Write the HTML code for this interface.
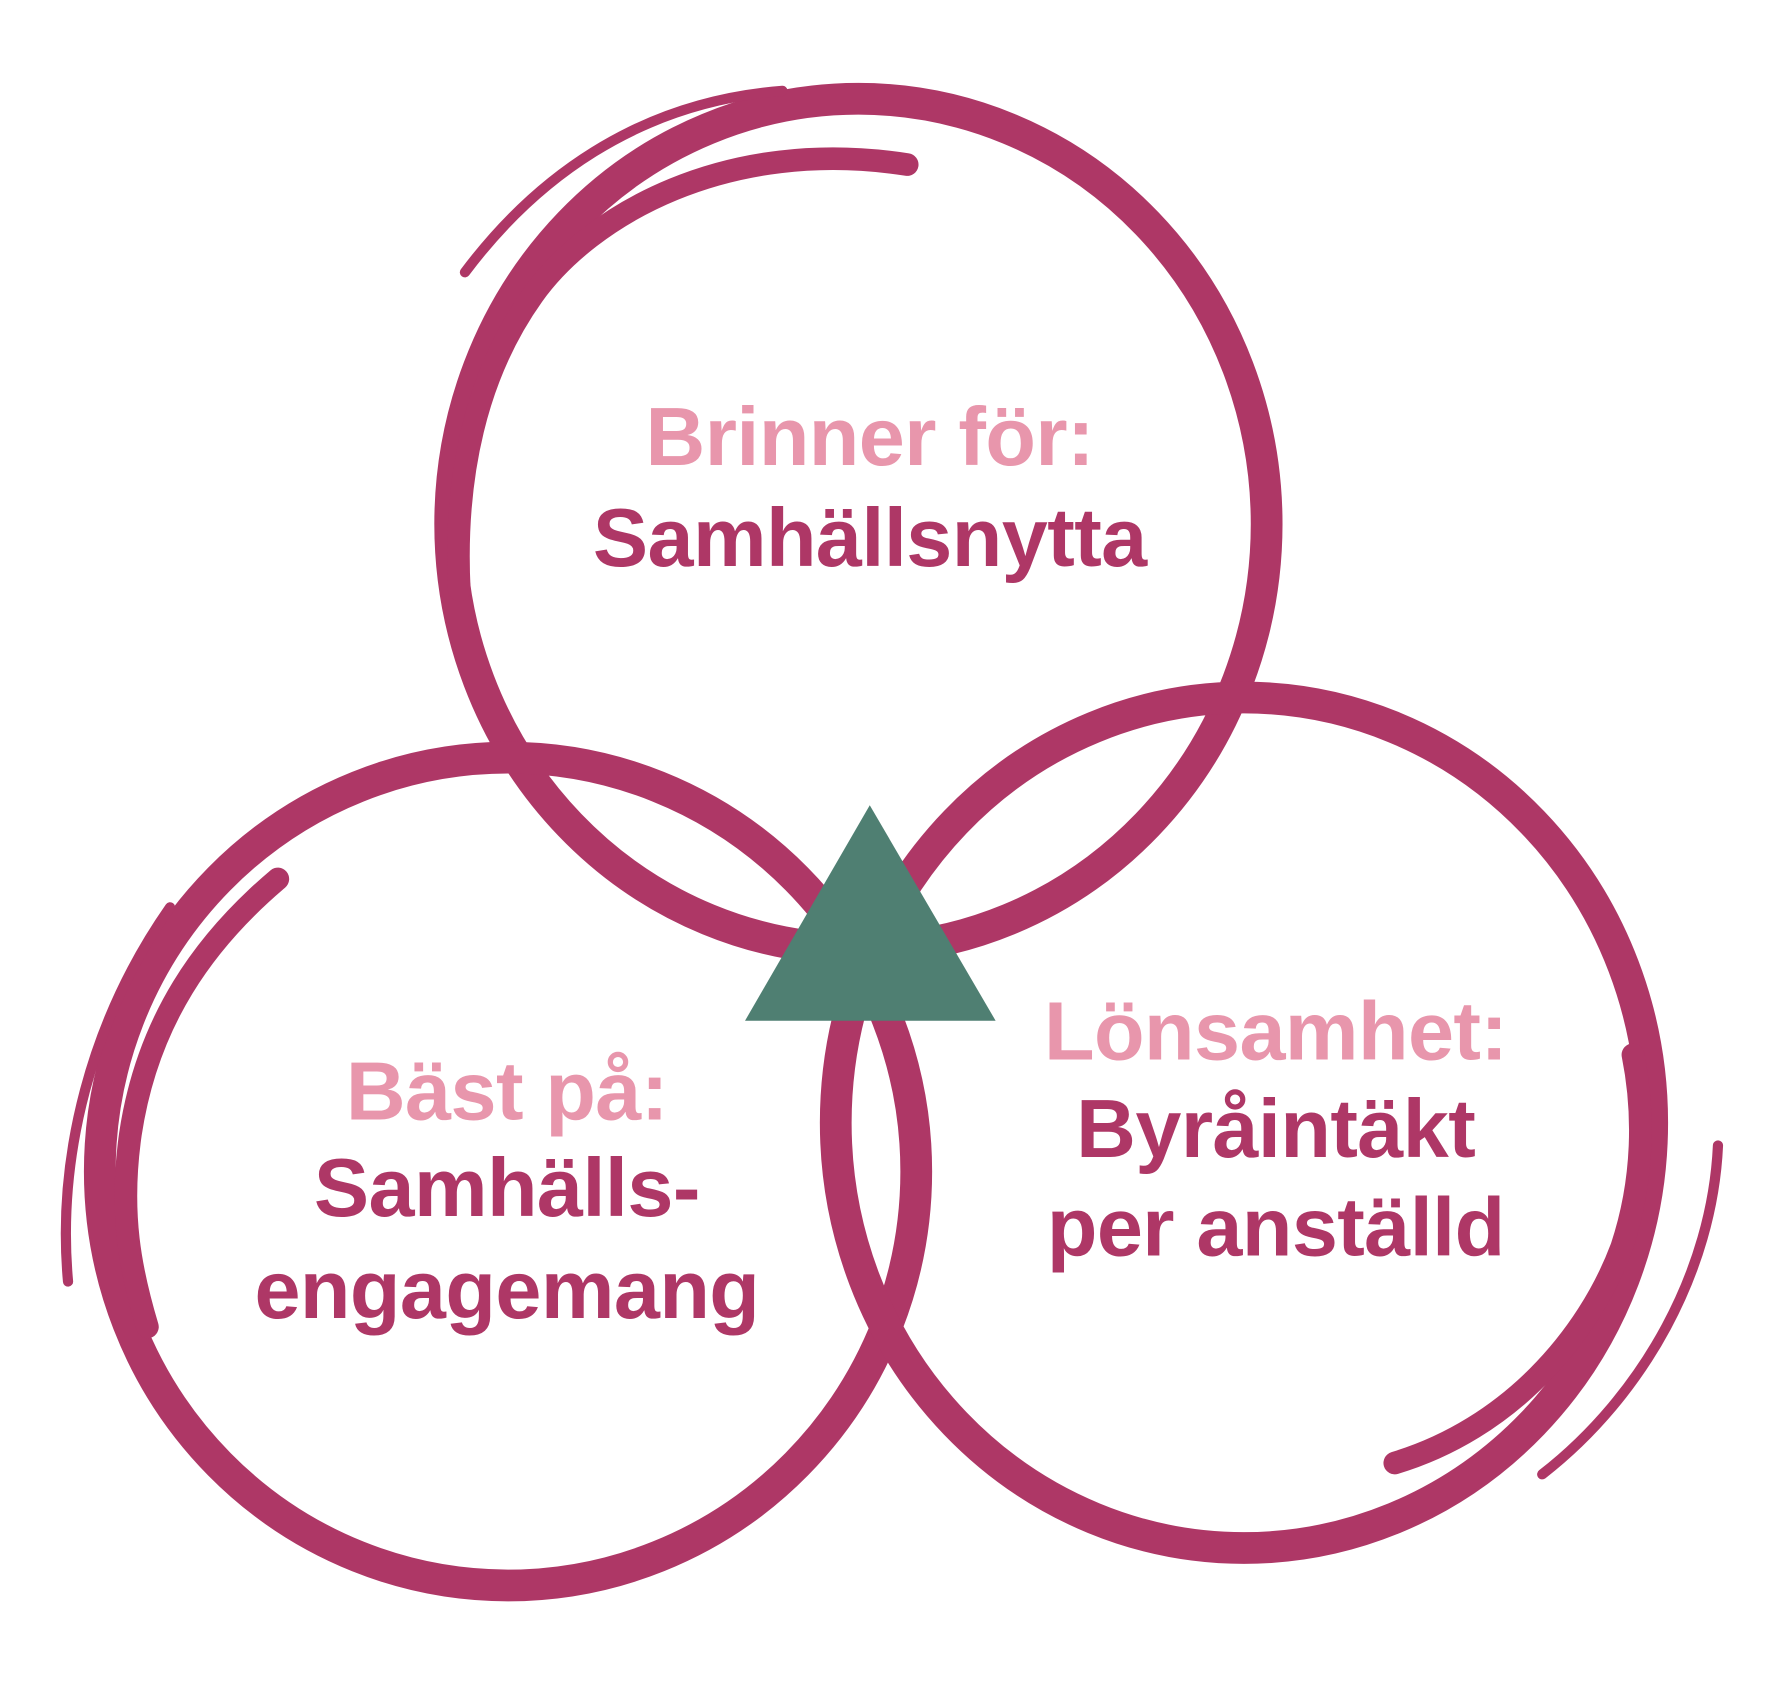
<!DOCTYPE html>
<html><head><style>
html,body{margin:0;padding:0;background:#fff;}
svg{display:block;}
text{font-family:"Liberation Sans",sans-serif;font-weight:bold;text-anchor:middle;letter-spacing:-0.5px;}
</style></head><body>
<svg width="1769" height="1699" viewBox="0 0 1560 1498" xmlns="http://www.w3.org/2000/svg">
<g fill="none" stroke="#ae3766" stroke-linecap="round">
  <ellipse cx="757" cy="462" rx="360" ry="375" stroke-width="28"/>
  <path d="M800 145 C 640 120, 520 190, 470 260 C 420 330, 400 420, 405 520" stroke-width="20"/>
  <path d="M410 240 C 470 160, 560 90, 690 80" stroke-width="9"/>
  <ellipse cx="448" cy="1033" rx="360" ry="365" stroke-width="28"/>
  <path d="M245 775 C 180 830, 130 900, 115 1000 C 105 1070, 115 1120, 130 1170" stroke-width="20"/>
  <path d="M60 1130 C 50 1020, 80 900, 150 800" stroke-width="9"/>
  <ellipse cx="1097" cy="990" rx="360" ry="375" stroke-width="28"/>
  <path d="M1230 1290 C 1330 1260, 1400 1180, 1430 1100 C 1450 1040, 1450 980, 1440 930" stroke-width="20"/>
  <path d="M1515 1010 C 1510 1120, 1450 1230, 1360 1300" stroke-width="9"/>
</g>
<polygon points="767,710 657,900 878,900" fill="#4f7f72"/>
<g font-size="73">
<text x="767" y="410" fill="#e896ac">Brinner för:</text>
<text x="767" y="499" fill="#ae3766">Samhällsnytta</text>
<text x="447" y="987" fill="#e896ac">Bäst på:</text>
<text x="447" y="1072" fill="#ae3766">Samhälls-</text>
<text x="447" y="1162" fill="#ae3766">engagemang</text>
<text x="1125" y="934" fill="#e896ac">Lönsamhet:</text>
<text x="1125" y="1020" fill="#ae3766">Byråintäkt</text>
<text x="1125" y="1107" fill="#ae3766">per anställd</text>
</g>
</svg>
</body></html>
